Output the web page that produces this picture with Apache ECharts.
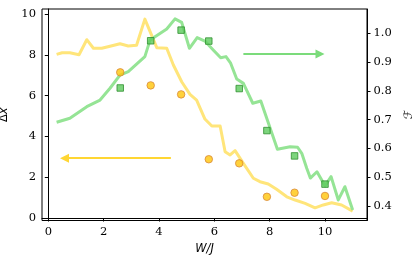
<!DOCTYPE html>
<html><head><meta charset="utf-8">
<script src="https://cdn.jsdelivr.net/npm/echarts@6/dist/echarts.min.js"></script>
<style>html,body{margin:0;padding:0;background:#fff}#c{width:415px;height:261px}</style>
</head><body><div id="c"></div>
<script>
// tick labels
const xTicks = [0, 2, 4, 6, 8, 10];
const leftTicks = [0, 2, 4, 6, 8, 10];
const rightTicks = [0.4, 0.5, 0.6, 0.7, 0.8, 0.9, 1.0];

// yellow line (left axis, Δx)
const dxLineW = [0.30,0.50,0.78,1.11,1.39,1.63,1.93,2.23,2.59,2.89,3.19,3.49,3.92,4.28,4.52,4.82,5.12,5.36,5.66,5.91,6.21,6.39,6.57,6.75,7.05,7.41,7.65,7.95,8.25,8.62,8.92,9.28,9.64,9.94,10.24,10.60,11.00];
const dxLineVal = [8.02,8.10,8.10,8.00,8.74,8.32,8.32,8.42,8.54,8.43,8.47,9.75,8.35,8.32,7.50,6.68,6.06,5.78,4.85,4.51,4.51,3.25,3.09,3.30,2.68,1.95,1.78,1.67,1.41,1.04,0.88,0.72,0.50,0.64,0.75,0.64,0.34];

// green line (right axis, F)
const fLineW = [0.30,0.78,1.39,1.87,2.23,2.59,2.89,3.49,3.68,4.28,4.58,4.82,5.10,5.38,5.66,5.96,6.23,6.42,6.59,6.81,7.05,7.39,7.68,8.28,8.74,9.01,9.16,9.34,9.47,9.71,10.00,10.22,10.48,10.72,11.00];
const fLineVal = [0.691,0.705,0.745,0.768,0.809,0.855,0.867,0.919,0.977,1.015,1.050,1.038,0.948,0.985,0.973,0.942,0.915,0.919,0.896,0.841,0.826,0.757,0.765,0.597,0.606,0.604,0.583,0.531,0.497,0.519,0.470,0.502,0.421,0.467,0.386];

// points
const dxPointW = [2.6, 3.7, 4.8, 5.8, 6.9, 7.9, 8.9, 10.0];
const dxPointVal = [7.14, 6.50, 6.06, 2.88, 2.68, 1.04, 1.24, 1.08];
const fPointW = [2.6, 3.7, 4.8, 5.8, 6.9, 7.9, 8.9, 10.0];
const fPointVal = [0.810, 0.974, 1.011, 0.973, 0.808, 0.662, 0.574, 0.476];

// arrows [tail, head centre]
const dxArrowW = [4.43, 0.585];
const dxArrowVal = [2.93, 2.93];
const fArrowW = [7.05, 9.82];
const fArrowVal = [0.928, 0.928];

const zip = (a, b) => a.map((v, i) => [v, b[i]]);
const tickFont = {fontFamily: 'DejaVu Serif', fontSize: 11.5, color: '#000'};

const chart = echarts.init(document.getElementById('c'), null, {renderer: 'canvas'});
chart.setOption({
  animation: false,
  backgroundColor: '#fff',
  grid: {left: 42, top: 9, width: 325, height: 211.5, show: true, borderColor: '#000', borderWidth: 1,
    backgroundColor: 'transparent', outerBoundsMode: 'none', containLabel: false},
  xAxis: {
    type: 'value', min: -0.228, max: 11.518,
    name: 'W/J', nameLocation: 'middle', nameGap: 19,
    nameTextStyle: {fontFamily: 'DejaVu Sans', fontStyle: 'italic', fontSize: 11.5, color: '#000'},
    axisLine: {show: true, lineStyle: {color: '#000', width: 1}},
    axisTick: {show: true, length: 3.5, lineStyle: {color: '#000', width: 1}, customValues: xTicks},
    axisLabel: Object.assign({margin: 6, customValues: xTicks, formatter: v => String(v)}, tickFont),
    splitLine: {show: false}
  },
  yAxis: [{
    type: 'value', min: -0.1225, max: 10.245, position: 'left',
    name: '{d|Δ}{x|x}', nameLocation: 'middle', nameGap: 27, nameRotate: 90,
    nameTextStyle: {color: '#000', rich: {
      d: {fontFamily: 'DejaVu Sans', fontSize: 11.5, color: '#000'},
      x: {fontFamily: 'DejaVu Sans', fontStyle: 'italic', fontSize: 11.5, color: '#000'}}},
    axisLine: {show: true, lineStyle: {color: '#000', width: 1}},
    axisTick: {show: true, length: 3.5, lineStyle: {color: '#000', width: 1}, customValues: leftTicks},
    axisLabel: Object.assign({margin: 6, customValues: leftTicks, formatter: v => String(v)}, tickFont),
    splitLine: {show: false}
  }, {
    type: 'value', min: 0.3496, max: 1.0844, position: 'right',
    name: 'ℱ', nameLocation: 'middle', nameGap: 31, nameRotate: 90,
    nameTextStyle: {fontFamily: 'DejaVu Sans', fontStyle: 'italic', fontSize: 11.5, color: '#000'},
    axisLine: {show: true, lineStyle: {color: '#000', width: 1}},
    axisTick: {show: true, length: 3.5, lineStyle: {color: '#000', width: 1}, customValues: rightTicks},
    axisLabel: Object.assign({margin: 6.5, customValues: rightTicks, formatter: v => v.toFixed(1)}, tickFont),
    splitLine: {show: false}
  }],
  series: [{
    type: 'line', yAxisIndex: 0, data: zip(dxLineW, dxLineVal), showSymbol: false, symbol: 'none',
    lineStyle: {color: '#FFE57A', width: 3, join: 'round'}, z: 2,
    markLine: {silent: true, symbol: ['none', 'triangle'], symbolSize: [9, 9], label: {show: false},
      lineStyle: {color: '#FFD633', width: 2, type: 'solid'},
      data: [[{coord: [dxArrowW[0], dxArrowVal[0]]}, {coord: [dxArrowW[1], dxArrowVal[1]]}]]}
  }, {
    type: 'line', yAxisIndex: 1, data: zip(fLineW, fLineVal), showSymbol: false, symbol: 'none',
    lineStyle: {color: '#95E495', width: 3, join: 'round'}, z: 3,
    markLine: {silent: true, symbol: ['none', 'triangle'], symbolSize: [9, 9], label: {show: false},
      lineStyle: {color: '#7BDB7B', width: 2, type: 'solid'},
      data: [[{coord: [fArrowW[0], fArrowVal[0]]}, {coord: [fArrowW[1], fArrowVal[1]]}]]}
  }, {
    type: 'scatter', yAxisIndex: 0, data: zip(dxPointW, dxPointVal), symbol: 'circle', symbolSize: 7.5,
    itemStyle: {color: '#FFC60A', borderColor: '#D98A3A', borderWidth: 1}, z: 4
  }, {
    type: 'scatter', yAxisIndex: 1, data: zip(fPointW, fPointVal), symbol: 'rect', symbolSize: 6.5,
    itemStyle: {color: '#5CCB5C', borderColor: '#2F8F2F', borderWidth: 1}, z: 5
  }]
});
</script></body></html>
